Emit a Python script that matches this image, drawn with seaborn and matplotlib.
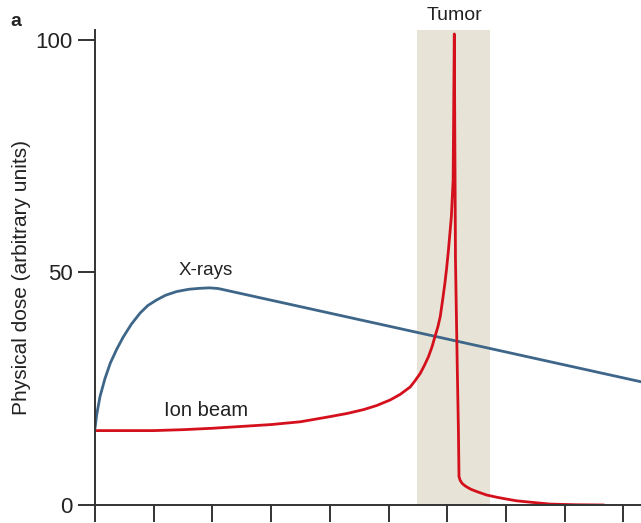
import matplotlib
matplotlib.use("Agg")
import matplotlib.pyplot as plt
import seaborn as sns
import pandas as pd

# Data
xray_depth = [0.0, 0.03, 0.085, 0.17, 0.26, 0.37, 0.48, 0.62, 0.77, 0.9, 1.05, 1.2, 1.39, 1.6, 1.79, 1.95, 2.1, 9.3]
xray_dose = [16.5, 19.5, 23.3, 27.2, 30.5, 33.5, 36.1, 38.9, 41.3, 42.9, 44.1, 45.1, 45.9, 46.4, 46.6, 46.7, 46.55, 26.5]

ion_depth = [0.0, 1.0, 1.5, 2.0, 2.5, 3.0, 3.5, 4.0, 4.3, 4.57, 4.8, 5.03, 5.2, 5.37, 5.45, 5.54, 5.61,
             5.68, 5.74, 5.79, 5.84, 5.88, 5.92, 5.96, 5.99, 6.02, 6.07, 6.10, 6.12, 6.14, 6.17, 6.19,
             6.20, 6.22, 6.25, 6.29, 6.33, 6.4, 6.5, 6.67, 6.85, 7.0, 7.18, 7.5, 7.75, 8.2, 8.67]
ion_dose = [16.0, 16.0, 16.2, 16.5, 16.9, 17.3, 17.9, 19.0, 19.7, 20.5, 21.4, 22.6, 23.8, 25.4, 26.7, 28.3, 30.0,
            31.9, 34.0, 36.2, 38.3, 40.5, 44.0, 47.7, 51.0, 54.8, 62.0, 70.0, 101.3, 52.7, 30.0, 16.1,
            6.1, 5.3, 4.7, 4.25, 3.9, 3.4, 2.9, 2.15, 1.65, 1.3, 0.9, 0.5, 0.2, 0.05, 0.0]

tumor_range = [5.48, 6.72]
y_ticks = [0, 50, 100]
x_ticks = [0, 1, 2, 3, 4, 5, 6, 7, 8, 9]

sns.set_style("white")
plt.rcParams["font.family"] = ["Liberation Sans", "DejaVu Sans"]

fig = plt.figure(figsize=(6.41, 5.23), dpi=100)
ax = fig.add_axes([95 / 641, 1 - 505 / 523, 1 - 95 / 641, (505 - 30) / 523])

ax.axvspan(tumor_range[0], tumor_range[1], color="#e7e3d6", lw=0, zorder=0)

xr = pd.DataFrame({"depth": xray_depth, "dose": xray_dose})
ion = pd.DataFrame({"depth": ion_depth, "dose": ion_dose})
sns.lineplot(data=xr, x="depth", y="dose", ax=ax, color="#3d6689", lw=2.0, sort=False, estimator=None)
sns.lineplot(data=ion, x="depth", y="dose", ax=ax, color="#d4101c", lw=2.0, sort=False, estimator=None)

ax.set_xlim(0, 9.30)
ax.set_ylim(0, 102.15)
ax.set_xticks(x_ticks)
ax.set_xticklabels([])
ax.set_yticks(y_ticks)
ax.set_yticklabels([str(v) for v in y_ticks])
ax.tick_params(axis="both", direction="out", length=12, width=1.4, color="#333333",
               labelsize=16, labelcolor="#222222", pad=4, bottom=True, left=True)
for s in ["top", "right"]:
    ax.spines[s].set_visible(False)
for s in ["left", "bottom"]:
    ax.spines[s].set_color("#333333")
    ax.spines[s].set_linewidth(1.4)
ax.set_xlabel("")
ax.set_ylabel("Physical dose (arbitrary units)", fontsize=15, color="#222222")
ax.yaxis.set_label_coords((31 - 95) / 546, (505 - 278) / 475)

ax.text(6.12, 104.3, "Tumor", ha="center", va="baseline", fontsize=14, color="#222222", clip_on=False)
ax.text(1.88, 50.5, "X-rays", ha="center", va="center", fontsize=13.5, color="#222222")
ax.text(1.9, 20.3, "Ion beam", ha="center", va="center", fontsize=14.5, color="#222222")
fig.text(10 / 641, 1 - 21 / 523, "a", ha="left", va="center", fontsize=14, fontweight="bold", color="#222222")

fig.savefig("out.png", dpi=100)
